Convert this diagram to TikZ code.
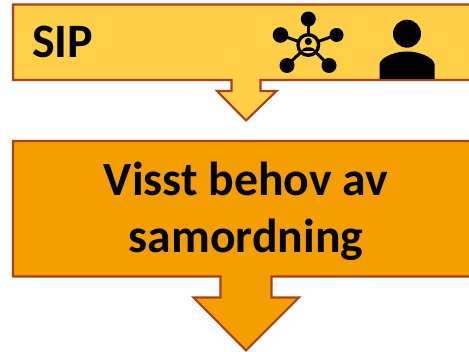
\documentclass[tikz,border=0pt]{standalone}
\usepackage{fontspec}
\setmainfont{Carlito}
\definecolor{lightfill}{HTML}{FFCF47}
\definecolor{darkfill}{HTML}{F59E00}
\definecolor{edgecol}{HTML}{AE3F1A}
\tikzset{
  callout/.style={draw=edgecol,line width=2.1pt,miter limit=10},
  label/.style={inner sep=0pt,font=\bfseries,text=black},
  ico/.style={fill=black,draw=none},
  icoline/.style={draw=black,line width=3pt}
}
\begin{document}
\begin{tikzpicture}[x=1pt,y=-1pt]
\useasboundingbox (0,0) rectangle (469,352);
\fill[white] (0,0) rectangle (469,352);
% top callout
\path[callout,fill=lightfill] (480,4.5) -- (13,4.5) -- (13,80) -- (231.5,80) -- (231.5,91) -- (217,91) -- (246,120.5) -- (276.5,91) -- (260.5,91) -- (260.5,80) -- (480,80);
% lower callout
\path[callout,fill=darkfill] (480,141) -- (13,141) -- (13,276.5) -- (220.5,276.5) -- (220.5,297.5) -- (193.5,297.5) -- (246,350.5) -- (299,297.5) -- (271.5,297.5) -- (271.5,276.5) -- (480,276.5);
\node[label,font=\bfseries\fontsize{48}{48}\selectfont,anchor=base west] (sip) at (32,58) {SIP};
\node[label,font=\bfseries\fontsize{47.7}{57}\selectfont,align=center] (txt) at (246,211) {Visst behov av\\samordning};
% network icon
\coordinate (hub) at (308.3,45);
\foreach \n/\p/\r in {a/{308.3,19}/7.5,b/{280.5,35}/7.8,c/{336.5,35}/7,d/{287,65.5}/7.5,e/{329,65.5}/7.5}{
  \coordinate (\n) at (\p);
  \draw[icoline] (hub) -- (\n);
  \fill[ico] (\n) circle (\r);
}
\fill[ico] (hub) circle (12);
\fill[lightfill] (hub) circle (8.5);
\fill[ico] (308.3,41.5) circle (3.6);
\fill[ico] (301.5,51.5) .. controls (301.5,46) and (315,46) .. (315,51.5) -- cycle;
% person icon
\fill[ico] (407,33.7) circle (14);
\fill[ico] (379.5,79) -- (379.5,64) .. controls (381,57) and (395,51.5) .. (407,51.5) .. controls (419,51.5) and (433,57) .. (434.5,64) -- (434.5,79) -- cycle;
\end{tikzpicture}
\end{document}
